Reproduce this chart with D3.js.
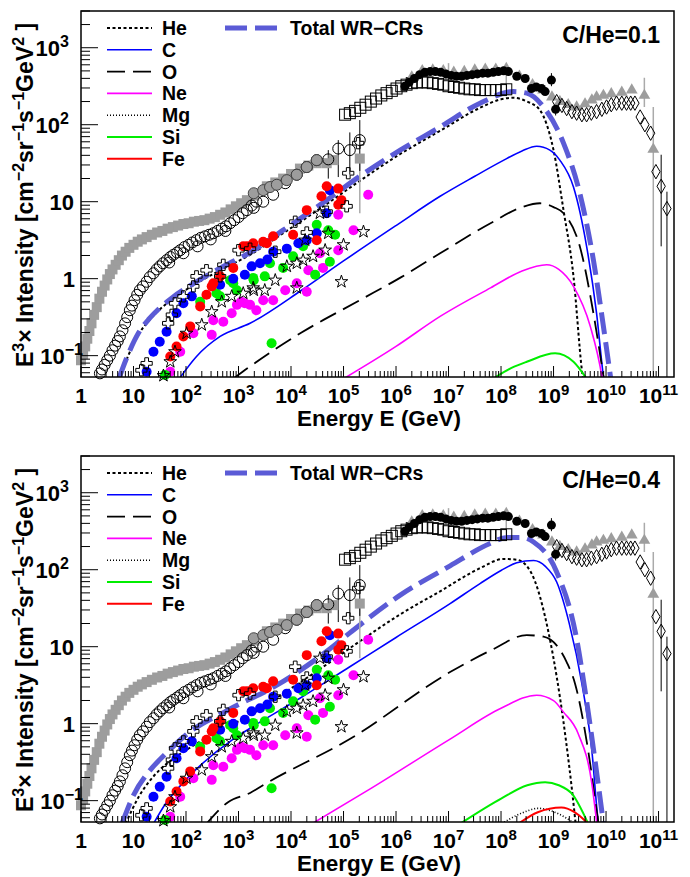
<!DOCTYPE html>
<html>
<head>
<meta charset="utf-8">
<script src="https://cdn.jsdelivr.net/npm/d3@7"></script>
<style>
body { margin: 0; background: #fff; }
svg { display: block; }
text { font-family: "Liberation Sans", Arial, sans-serif; font-weight: bold; }
</style>
</head>
<body>
<div id="chart"></div>
<script>
// every pair is [log10 E (GeV), log10 E^3 x intensity]

/* measurements (same in both panels) */
var graySq = [[0.00,-1.06],[0.04,-0.98],[0.08,-0.88],[0.12,-0.78],[0.16,-0.68],[0.20,-0.58],[0.25,-0.47],[0.30,-0.37],
	[0.35,-0.26],[0.40,-0.17],[0.45,-0.09],[0.50,-0.01],[0.55,0.06],[0.60,0.12],[0.66,0.18],[0.72,0.24],[0.78,0.30],
	[0.85,0.35],[0.92,0.40],[1.00,0.44],[1.08,0.48],[1.16,0.51],[1.25,0.54],[1.35,0.57],[1.45,0.60],[1.55,0.62],
	[1.65,0.65],[1.75,0.67],[1.85,0.69],[1.95,0.71],[2.05,0.72],[2.15,0.74],[2.25,0.75],[2.35,0.76],[2.45,0.78],
	[2.55,0.80],[2.65,0.83],[2.75,0.86],[2.85,0.90],[2.95,0.94],[3.05,0.98],[3.16,1.02],[3.30,1.08],[3.54,1.20],
	[3.70,1.25],[3.85,1.30],[4.00,1.36],[4.17,1.43],[4.33,1.47],[4.49,1.50],[4.68,1.50],[4.81,1.54],[5.31,1.56]];
var openCirc = [[0.36,-1.23],[0.40,-1.18],[0.45,-1.12],[0.50,-1.06],[0.55,-1.00],[0.60,-0.93],[0.65,-0.87],[0.70,-0.81],
	[0.74,-0.75],[0.79,-0.67],[0.84,-0.58],[0.88,-0.50],[0.93,-0.41],[0.97,-0.35],[1.02,-0.28],[1.07,-0.21],[1.12,-0.15],
	[1.18,-0.10],[1.25,-0.04],[1.31,0.02],[1.38,0.07],[1.44,0.12],[1.50,0.16],[1.56,0.20],[1.63,0.24],[1.70,0.28],
	[1.76,0.31],[1.83,0.34],[1.89,0.37],[1.97,0.41],[2.05,0.44],[2.12,0.47],[2.20,0.50],[2.28,0.53],[2.36,0.55],
	[2.44,0.57],[2.52,0.59],[2.60,0.62],[2.68,0.65],[2.76,0.68],[2.84,0.72],[2.92,0.76],[3.00,0.80],[3.08,0.85],
	[3.16,0.89],[3.25,0.95],[3.34,1.00],[1.68,0.21],[1.95,0.33],[2.22,0.42],[2.47,0.51],[2.75,0.62],[3.29,0.92],
	[3.47,1.00],[3.66,1.09],[3.89,1.24],[4.11,1.35],[4.30,1.45],[4.49,1.54],[4.71,1.55],[4.90,1.69],[5.12,1.67],[5.31,1.80]];
var grayCirc = [[3.29,1.11],[3.47,1.15],[3.60,1.19],[3.73,1.22],[3.92,1.28],[4.11,1.35],[4.30,1.45],[4.49,1.54]];
var magentaPts = [[1.70,-1.21],[1.89,-0.95],[2.14,-0.71],[2.49,-0.73],[2.52,-0.54],[2.71,-0.56],[2.87,-0.45],[2.97,-0.34],
	[3.05,-0.30],[3.12,-0.32],[3.22,-0.34],[3.34,-0.41],[3.47,-0.28],[3.66,-0.28],[3.89,-0.15],[4.11,-0.06],[4.30,-0.17],
	[4.33,0.11],[4.55,0.33],[4.61,0.14],[4.90,0.37],[4.90,0.83],[5.19,0.63],[5.47,1.09]];
var greenPts = [[1.60,-1.25],[2.27,-0.30],[2.58,-0.19],[2.65,-0.23],[2.84,-0.02],[2.90,-0.06],[2.97,-0.15],[3.28,0.01],
	[3.29,-0.02],[3.50,0.03],[3.60,0.20],[3.63,-0.84],[3.85,0.14],[4.04,0.29],[4.23,0.42],[4.46,0.05],[4.49,0.70],
	[4.71,0.63],[4.74,0.22],[4.84,0.57]];
var bluePts = [[1.25,-1.21],[1.38,-0.95],[1.50,-0.82],[1.63,-0.69],[1.82,-0.45],[1.95,-0.32],[2.11,-0.23],[2.65,-0.08],
	[2.90,0.00],[3.12,0.05],[3.25,0.16],[3.41,0.20],[3.55,0.25],[3.66,0.35],[3.92,0.39],[4.14,0.46],[4.30,0.50],
	[4.49,0.59],[4.68,0.85],[4.74,1.15]];
var redPts = [[1.70,-1.01],[1.82,-0.88],[1.95,-0.75],[2.08,-0.62],[2.27,-0.36],[2.39,-0.21],[2.49,-0.10],[2.52,-0.06],
	[2.65,0.03],[2.90,0.14],[3.09,0.42],[3.16,0.42],[3.28,0.46],[3.47,0.48],[3.54,0.46],[3.66,0.55],[4.04,0.57],
	[4.30,0.89],[4.49,0.50],[4.58,1.07],[4.68,1.20],[4.90,1.17],[4.90,0.96],[4.96,1.02]];
var stars = [[1.57,-1.26],[1.70,-1.08],[1.79,-0.95],[2.01,-0.71],[2.30,-0.60],[2.49,-0.43],[2.68,-0.30],[2.87,-0.23],
	[3.09,-0.19],[3.28,-0.12],[3.29,-0.15],[3.50,-0.15],[3.70,-0.02],[3.92,0.16],[4.11,-0.12],[4.11,0.20],[4.23,0.24],
	[4.27,0.50],[4.42,0.29],[4.55,0.85],[4.65,0.37],[4.71,0.59],[4.96,-0.04],[5.00,0.44],[5.38,0.61]];
var crosses = [[1.15,-1.19],[1.25,-1.10],[1.66,-0.58],[1.73,-0.47],[1.79,-0.32],[1.95,-0.23],[2.14,-0.10],[2.20,0.03],
	[2.39,0.11],[2.65,0.03],[2.71,0.18],[3.00,0.37],[3.22,0.39],[3.70,0.35],[4.08,0.74],[4.30,0.60],[4.68,0.87],
	[5.06,0.94],[5.09,1.37],[5.28,1.76]];
var openSq = [[5.03,2.13],[5.12,2.15],[5.22,2.18],[5.32,2.22],[5.42,2.26],[5.52,2.30],[5.62,2.34],[5.72,2.38],[5.82,2.41],
	[5.92,2.44],[6.01,2.47],[6.10,2.50],[6.20,2.52],[6.30,2.54],[6.40,2.55],[6.50,2.55],[6.60,2.55],[6.70,2.54],
	[6.80,2.53],[6.90,2.52],[7.00,2.50],[7.10,2.49],[7.20,2.48],[7.30,2.47],[7.40,2.46],[7.50,2.46],[7.60,2.45],
	[7.70,2.45],[7.80,2.45],[7.90,2.45],[8.00,2.45],[8.10,2.46]];
var blackCirc = [[6.17,2.50],[6.25,2.55],[6.35,2.60],[6.45,2.65],[6.55,2.68],[6.65,2.69],[6.75,2.69],[6.85,2.68],
	[6.95,2.66],[7.05,2.64],[7.15,2.63],[7.25,2.63],[7.35,2.64],[7.45,2.65],[7.55,2.66],[7.65,2.67],[7.75,2.67],
	[7.85,2.68],[7.95,2.69],[8.05,2.70],[8.14,2.69],[8.30,2.63],[8.46,2.60],[8.58,2.47],[8.67,2.49],[8.77,2.47],
	[8.84,2.43],[8.96,2.58],[9.04,2.20]];
var grayTri = [[6.30,2.62],[6.50,2.70],[6.70,2.71],[6.90,2.70],[7.10,2.68],[7.30,2.69],[7.50,2.71],[7.70,2.72],[7.90,2.72],
	[8.10,2.73],[8.35,2.63],[8.60,2.52],[8.80,2.45],[8.97,2.36],[9.12,2.30],[9.28,2.26],[9.44,2.23],[9.60,2.27],
	[9.73,2.32],[9.82,2.36],[9.95,2.38],[10.10,2.40],[10.30,2.42],[10.49,2.45],[10.73,2.38],[10.90,1.68]];
var diamonds = [[9.06,2.30],[9.16,2.25],[9.25,2.21],[9.35,2.17],[9.44,2.15],[9.54,2.13],[9.63,2.13],[9.72,2.15],
	[9.82,2.17],[9.92,2.20],[10.01,2.23],[10.10,2.26],[10.20,2.28],[10.30,2.28],[10.39,2.28],[10.47,2.28],[10.55,2.28],
	[10.65,2.10],[10.74,2.00],[10.85,1.89],[10.95,1.39],[11.05,1.20],[11.16,0.91]];
// [log10 E, low, high]
var blackErr = [[4.71,1.30,1.67],[4.90,1.32,1.80],[5.12,1.35,1.90],[5.31,1.40,2.06],[8.96,2.50,2.67],[9.04,2.12,2.26],
	[11.05,0.42,1.61],[11.16,-1.40,1.13]];
var grayErr = [[5.31,0.85,1.56],[7.00,2.62,2.80],[8.10,2.45,2.78],[10.73,2.23,2.61],[10.90,-1.40,2.23]];

/* model curves, C/He = 0.1 */
var heA = [[0.72,-1.32],[0.90,-1.00],[1.10,-0.72],[1.30,-0.54],[1.50,-0.40],[1.75,-0.26],[2.08,-0.11],[2.71,0.13],
	[3.22,0.31],[3.85,0.59],[4.68,0.97],[5.31,1.27],[6.08,1.62],[6.84,1.92],[7.60,2.22],[8.00,2.33],[8.23,2.35],
	[8.50,2.30],[8.74,2.19],[9.00,1.67],[9.19,0.89],[9.38,0.03],[9.54,-1.19],[9.60,-1.50]];
var cA = [[1.85,-1.32],[2.20,-1.01],[2.65,-0.75],[3.22,-0.58],[4.20,-0.15],[5.00,0.23],[6.00,0.69],[6.84,1.07],
	[7.50,1.33],[8.00,1.52],[8.40,1.66],[8.68,1.72],[8.93,1.67],[9.12,1.54],[9.38,1.19],[9.63,0.42],[9.82,-0.45],
	[9.95,-1.27],[10.00,-1.50]];
var oA = [[2.90,-1.30],[3.22,-1.14],[4.20,-0.70],[5.31,-0.28],[6.10,0.02],[6.84,0.33],[7.80,0.72],[8.40,0.93],[8.74,0.98],
	[9.00,0.93],[9.19,0.85],[9.50,0.42],[9.76,-0.45],[9.95,-1.27],[10.00,-1.50]];
var neA = [[5.00,-1.30],[6.00,-0.88],[6.84,-0.49],[7.80,-0.12],[8.40,0.10],[8.87,0.18],[9.10,0.12],[9.38,-0.10],
	[9.70,-0.62],[9.92,-1.27],[9.97,-1.50]];
var siA = [[7.85,-1.30],[8.20,-1.16],[8.49,-1.08],[9.03,-0.97],[9.38,-1.08],[9.63,-1.30]];
var totalA = [[0.72,-1.30],[0.90,-0.98],[1.10,-0.70],[1.30,-0.52],[1.50,-0.38],[1.75,-0.24],[2.08,-0.09],[2.71,0.16],
	[3.22,0.34],[3.85,0.63],[4.68,1.02],[5.31,1.33],[6.08,1.67],[6.84,1.97],[7.60,2.28],[8.23,2.43],[8.49,2.41],
	[8.81,2.23],[9.19,1.76],[9.50,1.11],[9.76,0.24],[9.95,-0.62],[10.10,-1.35]];

/* model curves, C/He = 0.4 */
var heB = [[0.85,-1.30],[1.10,-0.95],[1.30,-0.75],[1.50,-0.60],[1.75,-0.46],[2.08,-0.31],[2.71,-0.07],[3.22,0.11],
	[3.85,0.39],[4.68,0.77],[5.31,1.07],[6.08,1.42],[6.84,1.72],[7.60,2.02],[8.05,2.14],[8.30,2.13],[8.55,1.99],
	[8.93,1.10],[9.19,0.02],[9.41,-1.23],[9.45,-1.50]];
var cB = [[1.38,-1.30],[1.60,-1.05],[2.01,-0.72],[2.90,-0.20],[3.22,-0.06],[4.17,0.33],[5.12,0.74],[6.00,1.12],
	[7.03,1.56],[7.60,1.82],[8.00,1.99],[8.30,2.09],[8.62,2.12],[8.85,2.04],[9.06,1.84],[9.30,1.30],[9.54,0.52],
	[9.73,-0.35],[9.85,-1.27],[9.90,-1.50]];
var oB = [[2.39,-1.30],[2.80,-1.02],[3.22,-0.90],[3.54,-0.77],[5.12,-0.20],[7.03,0.67],[7.80,0.95],[8.49,1.15],
	[8.81,1.13],[9.25,0.80],[9.41,0.52],[9.66,-0.35],[9.85,-1.27],[9.90,-1.50]];
var neB = [[4.40,-1.30],[5.50,-0.85],[7.03,-0.20],[8.00,0.20],[8.68,0.37],[9.00,0.30],[9.19,0.15],[9.47,-0.13],
	[9.73,-0.78],[9.82,-1.27],[9.86,-1.50]];
var mgB = [[8.01,-1.30],[8.40,-1.16],[8.71,-1.10],[9.09,-1.17],[9.41,-1.30]];
var siB = [[7.22,-1.30],[8.01,-0.97],[8.50,-0.80],[8.84,-0.76],[9.10,-0.80],[9.35,-0.91],[9.66,-1.30]];
var feB = [[8.33,-1.30],[8.70,-1.15],[9.15,-1.09],[9.40,-1.15],[9.66,-1.30]];
var totalB = [[0.78,-1.30],[1.00,-0.93],[1.31,-0.61],[1.60,-0.40],[2.01,-0.14],[2.78,0.17],[3.73,0.50],[4.70,0.95],
	[5.12,1.18],[6.08,1.67],[7.03,2.05],[7.79,2.34],[8.11,2.42],[8.40,2.42],[8.62,2.36],[9.06,1.97],[9.44,1.10],
	[9.60,0.43],[9.85,-0.78],[9.97,-1.40]];

var xTickExp = [0,1,2,3,4,5,6,7,8,9,10,11];
var yTickExp = [-1,0,1,2,3];
var legendNames = ["He","C","O","Ne","Mg","Si","Fe"];

var width = 690;
var height = 877;

var styles = {
	He: {color: "#000", w: 2, dash: "3,2.5"},
	C: {color: "#0000ff", w: 1.6, dash: null},
	O: {color: "#000", w: 1.8, dash: "18,8"},
	Ne: {color: "#ff00ff", w: 1.6, dash: null},
	Mg: {color: "#000", w: 1.6, dash: "1,2"},
	Si: {color: "#00ee00", w: 2, dash: null},
	Fe: {color: "#ff0000", w: 2, dash: null},
	Total: {color: "#5b5bd6", w: 5, dash: "22,8"}
};

var xScale = d3.scaleLog().domain([1, 1.97e11]).range([81, 674]);
var yScale = d3.scaleLog().domain([0.0528, 3000]).range([377, 11]);
var px = d => xScale(Math.pow(10, d[0]));
var py = d => yScale(Math.pow(10, d[1]));

var svg = d3.select("#chart").append("svg")
	.attr("width", width)
	.attr("height", height);
svg.append("rect").attr("width", width).attr("height", height).attr("fill", "#fff");
svg.append("defs").append("clipPath").attr("id", "frame")
	.append("rect").attr("x", 81).attr("y", 11).attr("width", 593).attr("height", 366);

// text with superscripts: the shift back down goes on the next real span
function richText(sel, parts, supSize, lift) {
	var pending = 0;
	parts.forEach(function(p) {
		if (p[1]) {
			sel.append("tspan").attr("font-size", supSize).attr("dy", pending - lift).text(p[0]);
			pending = lift;
		} else {
			sel.append("tspan").attr("dy", pending).text(p[0]);
			pending = 0;
		}
	});
}

function drawPanel(g, curves, label) {
	var clip = g.append("g").attr("clip-path", "url(#frame)");
	var line = d3.line().x(px).y(py).curve(d3.curveMonotoneX);

	/* error bars */
	g.selectAll(".gerr").data(grayErr).enter().append("line")
		.attr("x1", d => px(d)).attr("x2", d => px(d))
		.attr("y1", d => Math.min(377, py([0, d[1]]))).attr("y2", d => py([0, d[2]]))
		.attr("stroke", "#aaa").attr("stroke-width", 1.5);
	g.selectAll(".berr").data(blackErr).enter().append("line")
		.attr("x1", d => px(d)).attr("x2", d => px(d))
		.attr("y1", d => Math.min(377, py([0, d[1]]))).attr("y2", d => py([0, d[2]]))
		.attr("stroke", "#000").attr("stroke-width", 1);

	/* data markers */
	g.append("g").selectAll("rect").data(graySq).enter().append("rect")
		.attr("x", d => px(d) - 5).attr("y", d => py(d) - 5)
		.attr("width", 10).attr("height", 10).attr("fill", "#9d9d9d");
	g.append("g").selectAll("circle").data(openCirc).enter().append("circle")
		.attr("cx", px).attr("cy", py).attr("r", 5.5)
		.attr("fill", "none").attr("stroke", "#000").attr("stroke-width", 1);
	g.append("g").selectAll("circle").data(grayCirc).enter().append("circle")
		.attr("cx", px).attr("cy", py).attr("r", 5.5)
		.attr("fill", "#9d9d9d").attr("stroke", "#444").attr("stroke-width", 1);
	[[magentaPts, "#ff00ff"], [greenPts, "#00ee00"], [bluePts, "#0000ff"], [redPts, "#ff0000"]].forEach(function(s) {
		g.append("g").selectAll("circle").data(s[0]).enter().append("circle")
			.attr("cx", px).attr("cy", py).attr("r", 5).attr("fill", s[1]);
	});
	g.append("g").selectAll("path").data(stars).enter().append("path")
		.attr("d", d3.symbol(d3.symbolStar, 50))
		.attr("transform", d => "translate(" + px(d) + "," + py(d) + ")")
		.attr("fill", "none").attr("stroke", "#000").attr("stroke-width", 1);
	g.append("g").selectAll("path").data(crosses).enter().append("path")
		.attr("d", d3.symbol(d3.symbolCross, 70))
		.attr("transform", d => "translate(" + px(d) + "," + py(d) + ")")
		.attr("fill", "none").attr("stroke", "#000").attr("stroke-width", 1);
	g.append("g").selectAll("rect").data(openSq).enter().append("rect")
		.attr("x", d => px(d) - 5.5).attr("y", d => py(d) - 5.5)
		.attr("width", 11).attr("height", 11)
		.attr("fill", "none").attr("stroke", "#000").attr("stroke-width", 1);
	g.append("g").selectAll("path").data(grayTri).enter().append("path")
		.attr("d", d3.symbol(d3.symbolTriangle, 60))
		.attr("transform", d => "translate(" + px(d) + "," + py(d) + ")")
		.attr("fill", "#9d9d9d");
	g.append("g").selectAll("circle").data(blackCirc).enter().append("circle")
		.attr("cx", px).attr("cy", py).attr("r", 4.5).attr("fill", "#000");
	g.append("g").selectAll("path").data(diamonds).enter().append("path")
		.attr("d", d3.symbol(d3.symbolDiamond, 60))
		.attr("transform", d => "translate(" + px(d) + "," + py(d) + ")")
		.attr("fill", "none").attr("stroke", "#000").attr("stroke-width", 1);

	/* model lines */
	curves.forEach(function(c) {
		var st = styles[c.name];
		clip.append("path")
			.attr("d", line(c.values))
			.attr("fill", "none")
			.attr("stroke", st.color)
			.attr("stroke-width", st.w)
			.attr("stroke-dasharray", st.dash);
	});

	/* frame and axes */
	g.append("rect").attr("x", 81).attr("y", 11).attr("width", 593).attr("height", 366)
		.attr("fill", "none").attr("stroke", "#000").attr("stroke-width", 1.5);

	var xTicks = [];
	xTickExp.forEach(function(k) {
		for (var m = 1; m < 10; m++) {
			var v = m * Math.pow(10, k);
			if (v <= 1.97e11) xTicks.push({v: v, major: m == 1});
		}
	});
	g.append("g").selectAll("line").data(xTicks).enter().append("line")
		.attr("x1", d => xScale(d.v)).attr("x2", d => xScale(d.v))
		.attr("y1", 377).attr("y2", d => 377 - (d.major ? 11 : 6))
		.attr("stroke", "#000").attr("stroke-width", 1);

	var yTicks = [];
	[-2].concat(yTickExp).forEach(function(k) {
		for (var m = 1; m < 10; m++) {
			var v = m * Math.pow(10, k);
			if (v >= 0.0528 && v <= 3000) yTicks.push({v: v, major: m == 1});
		}
	});
	g.append("g").selectAll("line").data(yTicks).enter().append("line")
		.attr("x1", 81).attr("x2", d => 81 + (d.major ? 17 : 9))
		.attr("y1", d => yScale(d.v)).attr("y2", d => yScale(d.v))
		.attr("stroke", "#000").attr("stroke-width", 1);

	xTickExp.forEach(function(k) {
		var t = g.append("text").attr("x", xScale(Math.pow(10, k))).attr("y", 403)
			.attr("text-anchor", "middle").attr("font-size", 21);
		if (k == 0) t.text("1");
		else if (k == 1) t.text("10");
		else richText(t, [["10", false], [String(k), true]], 15, 8);
	});
	yTickExp.forEach(function(k) {
		var t = g.append("text").attr("y", yScale(Math.pow(10, k)) + 8)
			.attr("text-anchor", "end").attr("font-size", 22);
		if (k == 0) t.attr("x", 75).text("1");
		else if (k == 1) t.attr("x", 74).text("10");
		else if (k < 0) { t.attr("x", 83); richText(t, [["10", false], ["\u2212" + (-k), true]], 16, 9); }
		else { t.attr("x", 69); richText(t, [["10", false], [String(k), true]], 16, 9); }
	});

	g.append("text").attr("x", 379).attr("y", 426).attr("text-anchor", "middle")
		.attr("font-size", 22.5).text("Energy E (GeV)");
	var yt = g.append("text").attr("transform", "translate(33,195) rotate(-90)")
		.attr("text-anchor", "middle").attr("font-size", 23);
	richText(yt, [["E", false], ["3", true], ["\u00d7 Intensity [cm", false], ["\u22122", true], ["sr", false],
		["\u22121", true], ["s", false], ["\u22121", true], ["GeV", false], ["2", true], [" ]", false]], 16, 9);

	/* legend */
	legendNames.forEach(function(n, i) {
		var st = styles[n];
		var ly = 28 + i * 21.8;
		g.append("line").attr("x1", 107).attr("x2", 152).attr("y1", ly).attr("y2", ly)
			.attr("stroke", st.color).attr("stroke-width", st.w).attr("stroke-dasharray", st.dash);
		g.append("text").attr("x", 162).attr("y", ly + 7).attr("font-size", 19.5).text(n);
	});
	g.append("line").attr("x1", 225).attr("x2", 278).attr("y1", 28).attr("y2", 28)
		.attr("stroke", styles.Total.color).attr("stroke-width", 5).attr("stroke-dasharray", "22,8");
	g.append("text").attr("x", 290).attr("y", 35).attr("font-size", 19.5).text("Total WR\u2212CRs");
	g.append("text").attr("x", 660).attr("y", 43).attr("text-anchor", "end")
		.attr("font-size", 23).text(label);
}

var topPanel = svg.append("g");
drawPanel(topPanel, [
	{name: "He", values: heA}, {name: "C", values: cA}, {name: "O", values: oA},
	{name: "Ne", values: neA}, {name: "Si", values: siA}, {name: "Total", values: totalA}
], "C/He=0.1");

var bottomPanel = svg.append("g").attr("transform", "translate(0,445)");
drawPanel(bottomPanel, [
	{name: "He", values: heB}, {name: "C", values: cB}, {name: "O", values: oB}, {name: "Ne", values: neB},
	{name: "Mg", values: mgB}, {name: "Si", values: siB}, {name: "Fe", values: feB}, {name: "Total", values: totalB}
], "C/He=0.4");
</script>
</body>
</html>
